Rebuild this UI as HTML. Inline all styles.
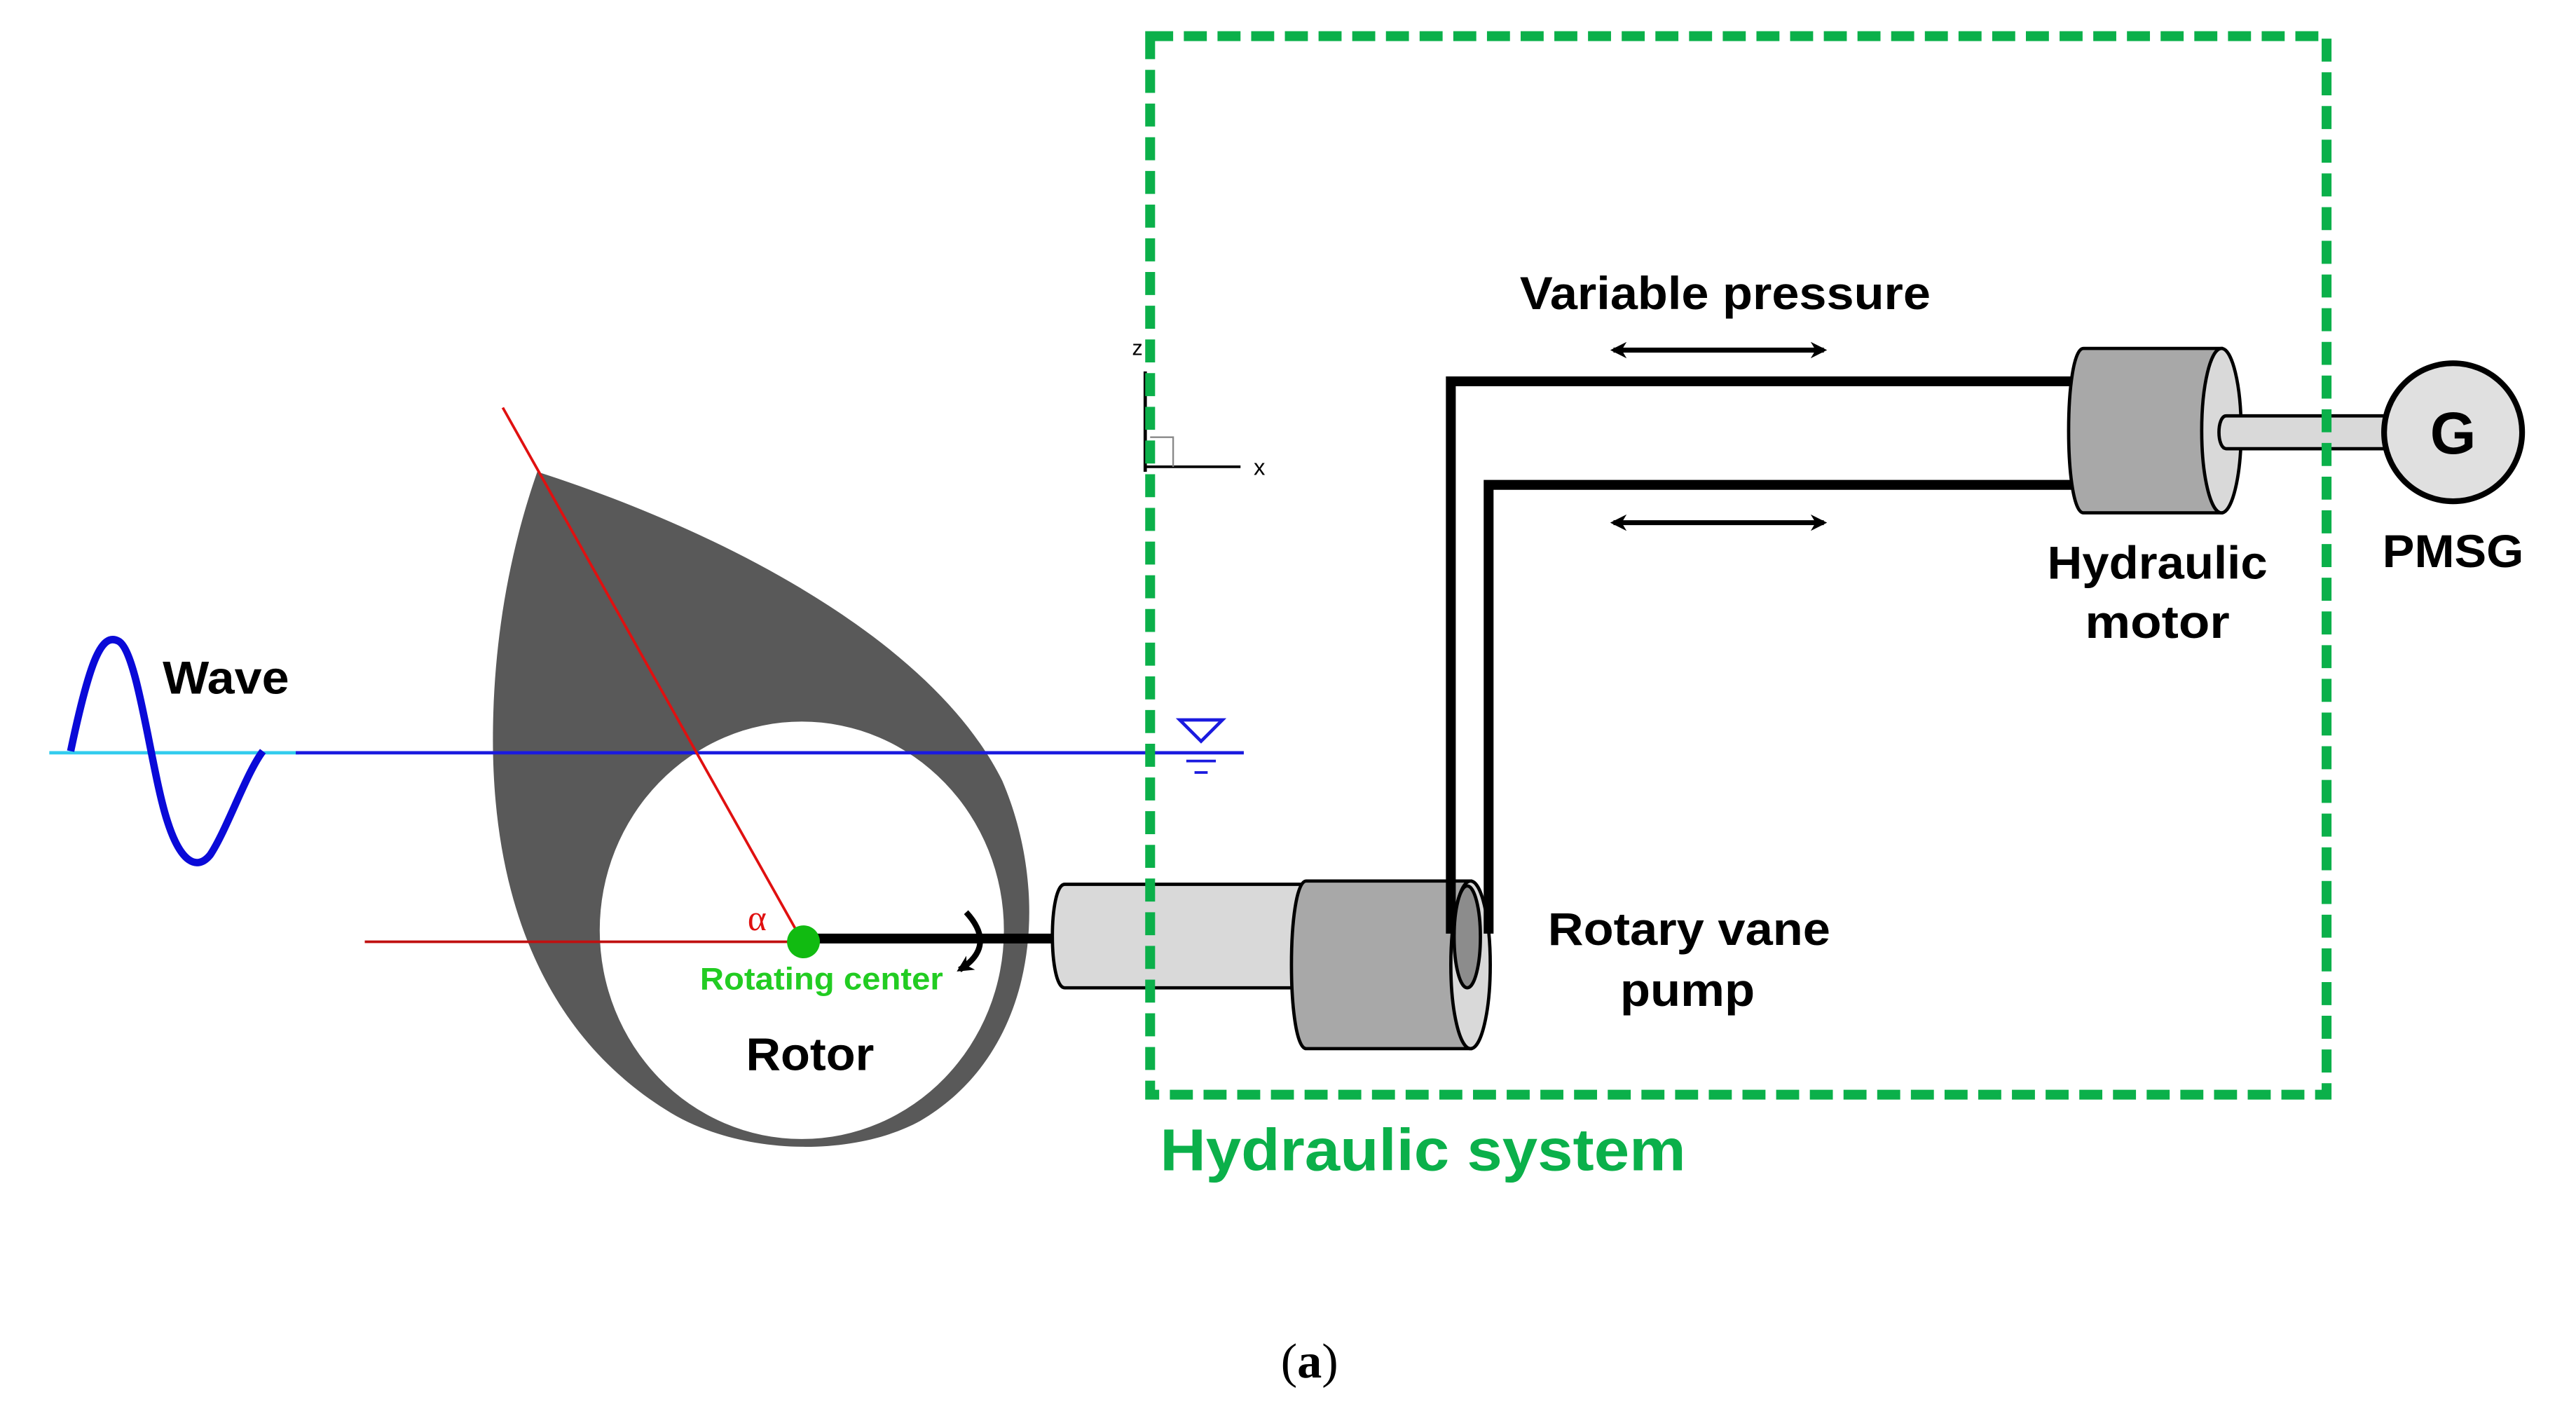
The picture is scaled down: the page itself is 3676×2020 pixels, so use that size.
<!DOCTYPE html>
<html><head><meta charset="utf-8"><style>
html,body{margin:0;padding:0;background:#fff;}
svg{display:block;}
text{font-family:"Liberation Sans","Noto Sans CJK KR",sans-serif;font-weight:bold;}
</style></head><body>
<svg width="3676" height="2020" viewBox="0 0 1567.8 861.5" preserveAspectRatio="none" xmlns="http://www.w3.org/2000/svg">
<defs>
<marker id="ah" markerWidth="10" markerHeight="10" refX="8" refY="5" orient="auto" markerUnits="userSpaceOnUse">
<path d="M0,0 L10,5 L0,10 L3,5 Z" fill="#000"/>
</marker>
<marker id="ahs" markerWidth="10" markerHeight="10" refX="2" refY="5" orient="auto" markerUnits="userSpaceOnUse">
<path d="M10,0 L0,5 L10,10 L7,5 Z" fill="#000"/>
</marker>
</defs>
<rect width="1567.8" height="861.5" fill="#fff"/>

<!-- teardrop -->
<path d="M327,287 C430,320 565,385 610,475 C640,545 632,640 560,682 C520,704 450,704 405,675 C330,628 300,545 300,450 C300,385 312,330 327,287 Z" fill="#595959"/>
<ellipse cx="488" cy="566" rx="123" ry="127" fill="#fff"/>

<!-- wave -->
<line x1="30" y1="458" x2="182" y2="458" stroke="#33ccee" stroke-width="2"/>
<line x1="180" y1="458" x2="757" y2="458" stroke="#1a1adf" stroke-width="2"/>
<path d="M43,457 C55,400 62,385 72,390 C84,396 92,470 102,500 C110,525 120,530 128,520 C138,505 150,470 160,457" fill="none" stroke="#0a0ad8" stroke-width="4.5"/>
<text x="99" y="422" font-size="28" textLength="77" lengthAdjust="spacingAndGlyphs">Wave</text>

<!-- red lines -->
<line x1="306" y1="248" x2="488" y2="572" stroke="#e01010" stroke-width="1.6"/>
<line x1="222" y1="573" x2="488" y2="573" stroke="#c01010" stroke-width="1.6"/>
<text x="455" y="566" font-size="22" fill="#e01010" style="font-family:'Liberation Serif',serif;font-weight:normal">α</text>

<!-- shaft line -->
<line x1="489" y1="571" x2="642" y2="571" stroke="#000" stroke-width="6"/>
<circle cx="489" cy="573" r="10" fill="#11bb11"/>
<path d="M588,555 C600,568 600,580 584,590" fill="none" stroke="#000" stroke-width="3.5" marker-end="url(#ah)"/>
<text x="426" y="602" font-size="19" fill="#22cc22" textLength="148" lengthAdjust="spacingAndGlyphs">Rotating center</text>
<text x="454" y="651" font-size="28" textLength="78" lengthAdjust="spacingAndGlyphs">Rotor</text>

<!-- pump shaft cylinder -->
<path d="M648,538 L800,538 L800,601 L648,601 C638,601 638,538 648,538 Z" fill="#d9d9d9" stroke="#000" stroke-width="2"/>
<path d="M795,536 L895,536 L895,638 L795,638 C783,638 783,536 795,536 Z" fill="#a8a8a8" stroke="#000" stroke-width="2"/>
<ellipse cx="895" cy="587" rx="12" ry="51" fill="#d9d9d9" stroke="#000" stroke-width="2"/>
<ellipse cx="893" cy="570" rx="8" ry="31" fill="#8c8c8c" stroke="#000" stroke-width="2"/>

<!-- pipes -->
<polyline points="883,568 883,232 1262,232" fill="none" stroke="#000" stroke-width="6"/>
<polyline points="906,568 906,295 1262,295" fill="none" stroke="#000" stroke-width="6"/>
<line x1="982" y1="213" x2="1110" y2="213" stroke="#000" stroke-width="3" marker-end="url(#ah)" marker-start="url(#ahs)"/>
<line x1="982" y1="318" x2="1110" y2="318" stroke="#000" stroke-width="3" marker-end="url(#ah)" marker-start="url(#ahs)"/>
<text x="925" y="188" font-size="28" textLength="250" lengthAdjust="spacingAndGlyphs">Variable  pressure</text>

<!-- motor -->
<path d="M1268,212 L1352,212 L1352,312 L1268,312 C1256,312 1256,212 1268,212 Z" fill="#a8a8a8" stroke="#000" stroke-width="2"/>
<ellipse cx="1352" cy="262" rx="12" ry="50" fill="#d9d9d9" stroke="#000" stroke-width="2"/>
<path d="M1355,253 L1455,253 L1455,273 L1355,273 C1349,273 1349,253 1355,253 Z" fill="#d9d9d9" stroke="#000" stroke-width="2"/>
<circle cx="1493" cy="263" r="42" fill="#e0e0e0" stroke="#000" stroke-width="3.5"/>
<text x="1493" y="276" font-size="36" text-anchor="middle">G</text>
<text x="1313" y="352" font-size="28" text-anchor="middle" textLength="134" lengthAdjust="spacingAndGlyphs">Hydraulic</text>
<text x="1313" y="388" font-size="28" text-anchor="middle" textLength="88" lengthAdjust="spacingAndGlyphs">motor</text>
<text x="1493" y="345" font-size="28" text-anchor="middle" textLength="86" lengthAdjust="spacingAndGlyphs">PMSG</text>

<text x="942" y="575" font-size="28" textLength="172" lengthAdjust="spacingAndGlyphs">Rotary  vane</text>
<text x="1027" y="612" font-size="28" text-anchor="middle" textLength="82" lengthAdjust="spacingAndGlyphs">pump</text>

<!-- axes -->
<line x1="697" y1="226" x2="697" y2="287" stroke="#000" stroke-width="2"/>
<line x1="697" y1="284" x2="755" y2="284" stroke="#000" stroke-width="1.6"/>
<polyline points="700,266 714,266 714,284" fill="none" stroke="#888" stroke-width="1"/>
<text x="689" y="216" font-size="13" style="font-weight:normal">z</text>
<text x="763" y="289" font-size="14" style="font-weight:normal">x</text>

<!-- water level symbol -->
<polygon points="718,438 744,438 731,451" fill="none" stroke="#1a1adf" stroke-width="2"/>
<line x1="722" y1="463" x2="740" y2="463" stroke="#1a1adf" stroke-width="1.6"/>
<line x1="727" y1="470" x2="735" y2="470" stroke="#1a1adf" stroke-width="1.6"/>

<!-- hydraulic system box -->
<rect x="700" y="22" width="716" height="644" fill="none" stroke="#0bb04a" stroke-width="6" stroke-dasharray="14,6.5"/>
<text x="706" y="712" font-size="36" fill="#0bb04a" textLength="320" lengthAdjust="spacingAndGlyphs">Hydraulic system</text>

<text x="797" y="838" font-size="30" text-anchor="middle" style="font-family:'Liberation Serif',serif;font-weight:normal">(<tspan font-weight="bold">a</tspan>)</text>
</svg>
</body></html>
